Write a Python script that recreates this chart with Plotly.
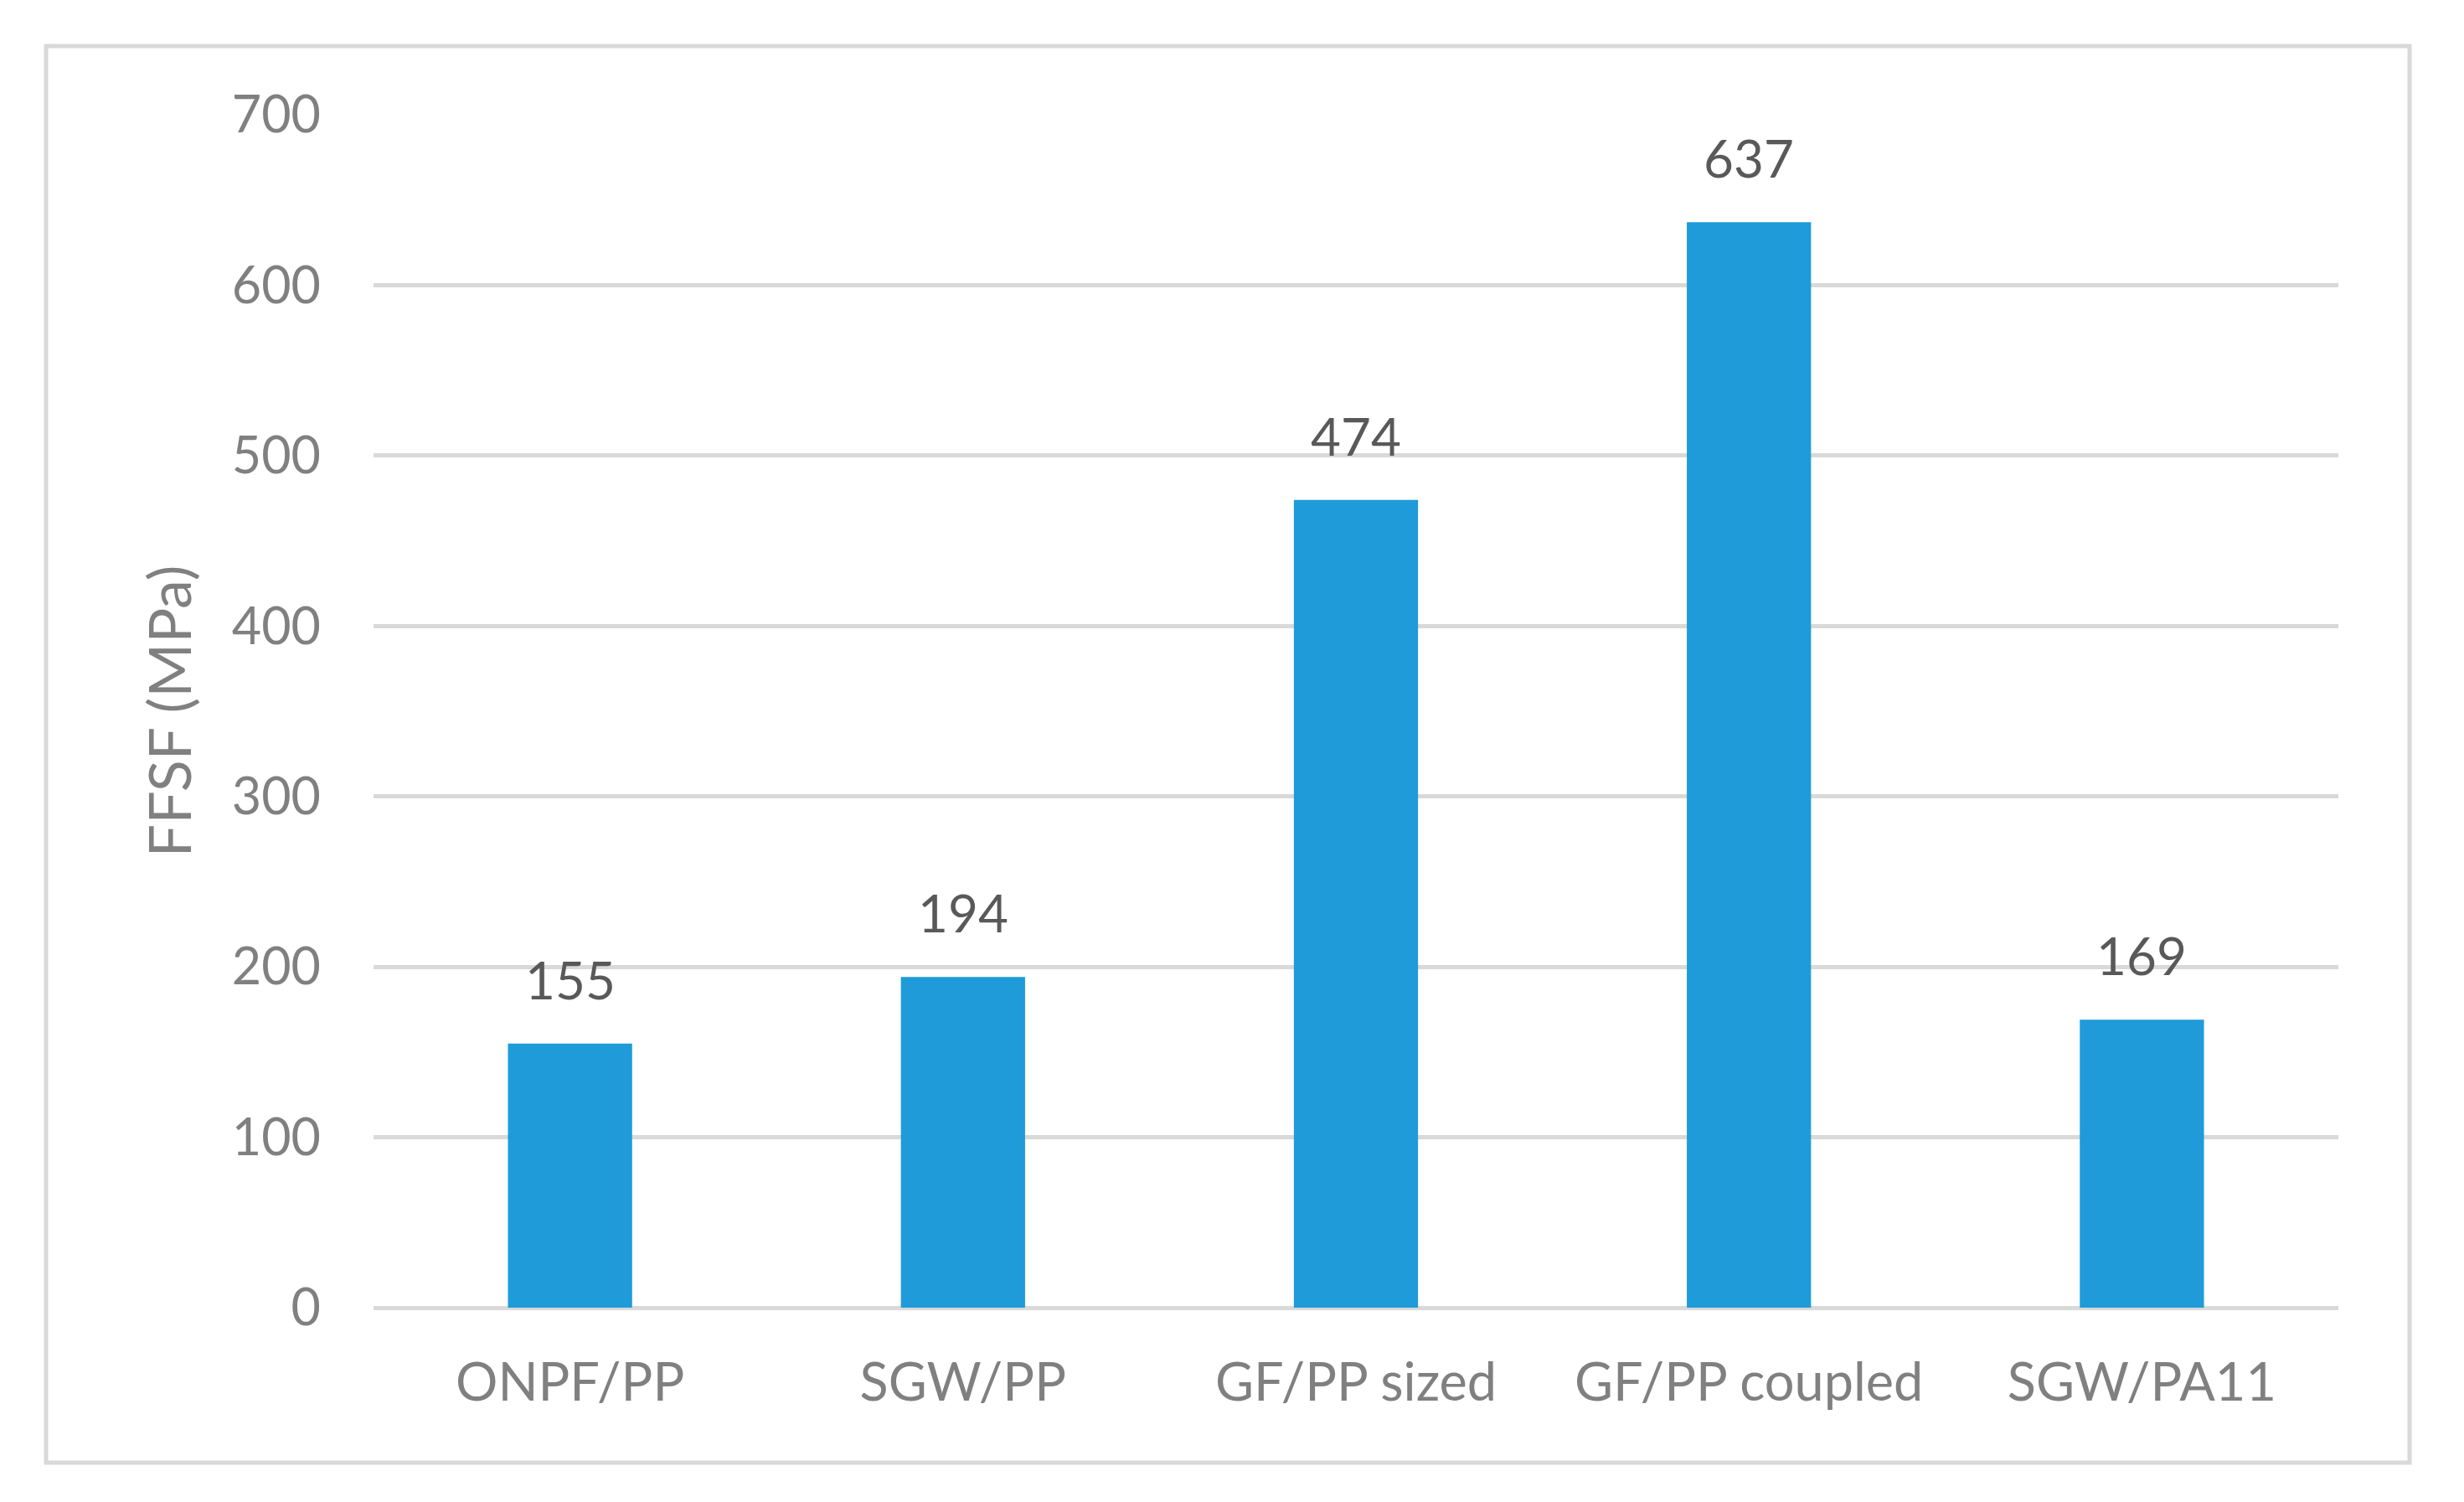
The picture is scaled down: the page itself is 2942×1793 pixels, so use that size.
import plotly.graph_objects as go

categories = ["ONPF/PP", "SGW/PP", "GF/PP sized", "GF/PP coupled", "SGW/PA11"]
values = [155, 194, 474, 637, 169]
y_ticks = [0, 100, 200, 300, 400, 500, 600, 700]

W, H = 2942, 1793
OFF = 8  # page offset seen in the screenshot
L, R, T, B = 446 - OFF, 2792 - OFF, 137 - OFF, 1561 - OFF
pw, ph = R - L, B - T

def px_x(p):
    return (p - OFF - L) / pw

def px_y(p):
    return (B - (p - OFF)) / ph

FONT = "Lato"
fig = go.Figure()
fig.add_trace(go.Bar(
    x=categories, y=values,
    marker=dict(color="#1E9BD8", line=dict(width=0)),
    width=0.316,
    hoverinfo="skip",
))

for c, v in zip(categories, values):
    fig.add_annotation(x=c, y=v, text=str(v), showarrow=False,
                       yanchor="middle", yshift=77,
                       font=dict(family=FONT, size=62, color="#595959"))

fig.add_shape(type="rect", xref="paper", yref="paper",
              x0=px_x(55), x1=px_x(2877), y0=px_y(55), y1=px_y(1746),
              line=dict(color="#D9D9D9", width=5), fillcolor="rgba(0,0,0,0)", layer="below")

fig.update_layout(
    width=W, height=H,
    margin=dict(l=L, r=W - R, t=T, b=H - B),
    paper_bgcolor="white", plot_bgcolor="white",
    showlegend=False,
    bargap=0.684,
    font=dict(family=FONT, color="#808080"),
)
fig.update_xaxes(
    showgrid=False, zeroline=False, showline=False, ticks="",
    tickfont=dict(family=FONT, size=63, color="#808080"),
    ticklabelstandoff=47,
)
fig.update_yaxes(
    range=[0, 700], tickvals=y_ticks, ticktext=[str(t) for t in y_ticks],
    showgrid=True, gridcolor="#D9D9D9", gridwidth=5,
    zeroline=True, zerolinecolor="#D9D9D9", zerolinewidth=5,
    showline=False, ticks="",
    tickfont=dict(family=FONT, size=61, color="#808080"),
    ticklabelstandoff=62,
    title=dict(text="FFSF (MPa)", font=dict(family=FONT, size=70, color="#808080"), standoff=25),
)

fig.write_html("out.html")
